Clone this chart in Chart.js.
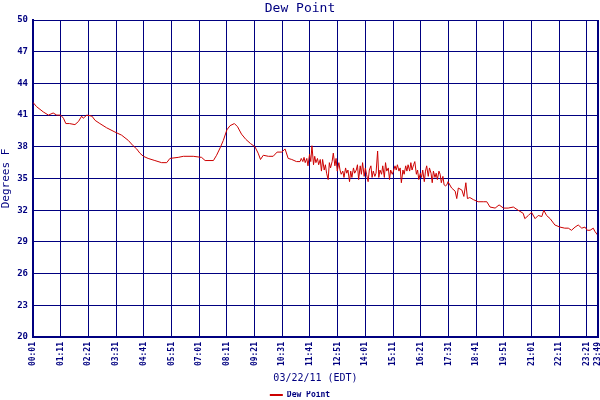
<!DOCTYPE html>
<html lang="en">
<head>
    <meta charset="UTF-8">
    <title>Dew Point</title>
    <script src="https://cdn.jsdelivr.net/npm/chart.js"></script>
    <style>
        html, body { margin: 0; padding: 0; background: #ffffff; }
        #wrap { width: 600px; height: 400px; }
    </style>
</head>
<body>
    <div id="wrap"><canvas id="dewChart" width="600" height="400"></canvas></div>
    <script>
        // readings, 03/22/11 (EDT)
        const times = [
            '00:01', '00:10', '00:27', '00:40', '00:52', '01:01', '01:11', '01:18', '01:24', '01:33',
            '01:47', '01:56', '02:04', '02:08', '02:17', '02:30', '02:38', '02:50', '03:07', '03:28',
            '03:45', '04:02', '04:14', '04:23', '04:31', '04:40', '04:52', '05:09', '05:26', '05:39',
            '05:47', '06:08', '06:21', '06:46', '07:07', '07:16', '07:37', '07:45', '07:54', '08:02',
            '08:11', '08:19', '08:30', '08:38', '08:48', '08:59', '09:11', '09:22', '09:30', '09:36',
            '09:43', '09:56', '10:08', '10:18', '10:30', '10:38', '10:46', '10:55', '11:07',
            '11:16', '11:19', '11:23', '11:26', '11:29', '11:33', '11:36', '11:40', '11:43', '11:46',
            '11:50', '11:53', '11:56', '12:00', '12:03', '12:07', '12:10', '12:13', '12:17', '12:20',
            '12:23', '12:27', '12:30', '12:33', '12:37', '12:40', '12:44', '12:47', '12:50', '12:54',
            '12:57', '13:00', '13:04', '13:07', '13:11', '13:14', '13:17', '13:21', '13:24', '13:27',
            '13:31', '13:34', '13:38', '13:41', '13:44', '13:48', '13:51', '13:54', '13:58', '14:01',
            '14:04', '14:08', '14:11', '14:15', '14:18', '14:21', '14:25',
            '14:28', '14:32', '14:35', '14:38', '14:42', '14:45', '14:49', '14:52', '14:55', '14:59',
            '15:02', '15:05', '15:09', '15:12', '15:16', '15:19', '15:22', '15:26', '15:29', '15:32',
            '15:36', '15:39', '15:43', '15:46', '15:49', '15:53', '15:56', '15:59', '16:03', '16:06',
            '16:10', '16:13', '16:16', '16:20', '16:23', '16:26', '16:30', '16:33', '16:36', '16:40',
            '16:43', '16:47', '16:50', '16:53', '16:57', '17:00', '17:03', '17:07', '17:10', '17:13',
            '17:17', '17:20', '17:24', '17:27', '17:30',
            '17:39', '17:48', '17:52', '17:56', '18:05', '18:10', '18:15', '18:19', '18:25', '18:34',
            '18:46', '18:59', '19:08', '19:16', '19:29', '19:39', '19:50', '20:02', '20:15', '20:27',
            '20:40', '20:44', '20:53', '21:01', '21:10', '21:18', '21:27', '21:32', '21:39', '21:48',
            '22:00', '22:13', '22:25', '22:34', '22:42', '22:51', '22:59', '23:08', '23:16', '23:22',
            '23:29', '23:37', '23:41', '23:49'
        ];
        const dewPoint = [
            42.2, 41.8, 41.3, 41.0, 41.2, 41.0, 41.0, 40.7, 40.2, 40.2,
            40.1, 40.4, 40.9, 40.7, 41.0, 40.9, 40.5, 40.2, 39.8, 39.4,
            39.1, 38.6, 38.1, 37.8, 37.4, 37.1, 36.9, 36.7, 36.5, 36.5,
            36.9, 37.0, 37.1, 37.1, 37.0, 36.7, 36.7, 37.2, 37.9, 38.6,
            39.6, 40.0, 40.2, 39.9, 39.2, 38.7, 38.3, 38.0, 37.4, 36.8,
            37.2, 37.1, 37.1, 37.5, 37.5, 37.8, 36.9, 36.8, 36.6,
            36.6, 36.9, 36.6, 37.0, 36.5, 36.9, 36.2, 37.3, 36.6, 38.1,
            36.3, 37.1, 36.5, 36.9, 36.3, 36.8, 35.7, 36.8, 35.8, 36.3,
            35.5, 34.9, 36.5, 36.0, 36.6, 37.4, 36.2, 36.9, 35.7, 36.5,
            35.8, 35.4, 35.7, 35.1, 36.0, 35.5, 35.8, 34.7, 35.7, 35.1,
            36.0, 35.5, 35.8, 36.3, 34.9, 36.2, 35.4, 36.5, 35.2, 36.0,
            35.4, 34.7, 35.8, 36.2, 35.1, 35.7, 35.2,
            35.5, 37.6, 35.1, 35.8, 35.4, 36.2, 35.1, 36.5, 35.7, 36.0,
            34.9, 35.8, 35.4, 35.7, 36.2, 35.8, 36.3, 35.7, 36.0, 34.6,
            35.8, 35.4, 36.2, 35.7, 36.3, 35.7, 36.5, 35.8, 36.3, 36.6,
            35.4, 35.8, 34.9, 35.5, 35.1, 35.8, 34.7, 35.7, 36.2, 35.2,
            36.0, 35.5, 34.6, 35.7, 35.1, 35.5, 34.9, 35.7, 35.4, 34.6,
            35.2, 34.4, 34.3, 34.4, 34.7,
            34.1, 33.8, 33.1, 34.1, 33.9, 33.3, 34.6, 33.1, 33.2, 33.0,
            32.8, 32.8, 32.8, 32.3, 32.2, 32.5, 32.2, 32.2, 32.3, 32.0,
            31.7, 31.2, 31.5, 31.8, 31.2, 31.5, 31.4, 32.0, 31.5, 31.2,
            30.6, 30.4, 30.3, 30.3, 30.1, 30.4, 30.6, 30.3, 30.4, 30.1,
            30.1, 30.3, 30.0, 29.6
        ];
        // x axis ticks every 70 minutes from 00:01, plus the last reading
        const xTicks = [
            '00:01', '01:11', '02:21', '03:31', '04:41', '05:51', '07:01', '08:11', '09:21', '10:31',
            '11:41', '12:51', '14:01', '15:11', '16:21', '17:31', '18:41', '19:51', '21:01', '22:11',
            '23:21', '23:49'
        ];
        const yTicks = [20, 23, 26, 29, 32, 35, 38, 41, 44, 47, 50];

        const navy = '#000080';
        const mono = "'DejaVu Sans Mono', monospace";

        function toMin(t) {
            const p = t.split(':');
            return parseInt(p[0], 10) * 60 + parseInt(p[1], 10);
        }
        function toLabel(m) {
            const h = Math.floor(m / 60), mm = m % 60;
            return String(h).padStart(2, '0') + ':' + String(mm).padStart(2, '0');
        }

        const points = times.map((t, i) => ({ x: toMin(t), y: dewPoint[i] }));
        const tickMins = xTicks.map(toMin);

        const chart = new Chart(document.getElementById('dewChart'), {
            type: 'line',
            data: {
                datasets: [{
                    label: 'Dew Point',
                    data: points,
                    borderColor: '#cc0000',
                    backgroundColor: '#cc0000',
                    borderWidth: 1,
                    pointRadius: 0,
                    tension: 0,
                    fill: false
                }]
            },
            options: {
                responsive: false,
                animation: false,
                devicePixelRatio: 1,
                layout: { padding: 0 },
                plugins: {
                    title: {
                        display: true,
                        text: 'Dew Point',
                        color: navy,
                        font: { family: mono, size: 13, weight: 'normal', lineHeight: 1.2 },
                        padding: { top: 1, bottom: 3.4 }
                    },
                    legend: {
                        position: 'bottom',
                        labels: {
                            color: navy,
                            font: { family: mono, size: 8, weight: 'bold' },
                            boxWidth: 13,
                            boxHeight: 2,
                            padding: 0,
                            generateLabels: () => [{
                                text: 'Dew Point',
                                fillStyle: '#cc0000',
                                strokeStyle: '#cc0000',
                                lineWidth: 0,
                                fontColor: navy,
                                datasetIndex: 0
                            }]
                        }
                    },
                    tooltip: { enabled: false }
                },
                scales: {
                    x: {
                        type: 'linear',
                        min: tickMins[0],
                        max: tickMins[tickMins.length - 1],
                        afterBuildTicks: s => { s.ticks = tickMins.map(v => ({ value: v })); },
                        afterFit: s => {
                            s.paddingLeft = 0;
                            s.paddingRight = 2;
                            s.height = 400 - 337 - s.chart.legend.height;
                        },
                        grid: { color: navy, lineWidth: 1, drawTicks: false },
                        border: { color: navy, width: 2 },
                        ticks: {
                            color: navy,
                            font: { family: mono, size: 8, weight: 'bold' },
                            minRotation: 90,
                            maxRotation: 90,
                            padding: 5,
                            autoSkip: false,
                            callback: v => toLabel(v)
                        },
                        title: {
                            display: true,
                            text: '03/22/11 (EDT)',
                            color: navy,
                            font: { family: mono, size: 10, weight: 'normal', lineHeight: 0.8 },
                            padding: 0
                        }
                    },
                    y: {
                        min: 20,
                        max: 50,
                        afterBuildTicks: s => { s.ticks = yTicks.map(v => ({ value: v })); },
                        afterFit: s => { s.width = 33; },
                        grid: { color: navy, lineWidth: 1, drawTicks: false },
                        border: { color: navy, width: 2 },
                        ticks: {
                            color: navy,
                            font: { family: mono, size: 9, weight: 'bold' },
                            padding: 5
                        },
                        title: {
                            display: true,
                            text: 'Degrees F',
                            color: navy,
                            font: { family: mono, size: 11, weight: 'normal', lineHeight: 1.2 },
                            padding: 0
                        }
                    }
                }
            },
            plugins: [{
                // legend sits lower, under the axis title
                id: 'legendDrop',
                afterLayout(c) {
                    c.legend.top += 9;
                    c.legend.bottom += 9;
                }
            }, {
                // thick right-hand frame like the left axis
                id: 'rightFrame',
                afterDraw(c) {
                    const a = c.chartArea, ctx = c.ctx;
                    ctx.save();
                    ctx.strokeStyle = navy;
                    ctx.lineWidth = 2;
                    ctx.beginPath();
                    ctx.moveTo(a.right, a.top);
                    ctx.lineTo(a.right, a.bottom);
                    ctx.stroke();
                    ctx.restore();
                }
            }]
        });
    </script>
</body>
</html>
